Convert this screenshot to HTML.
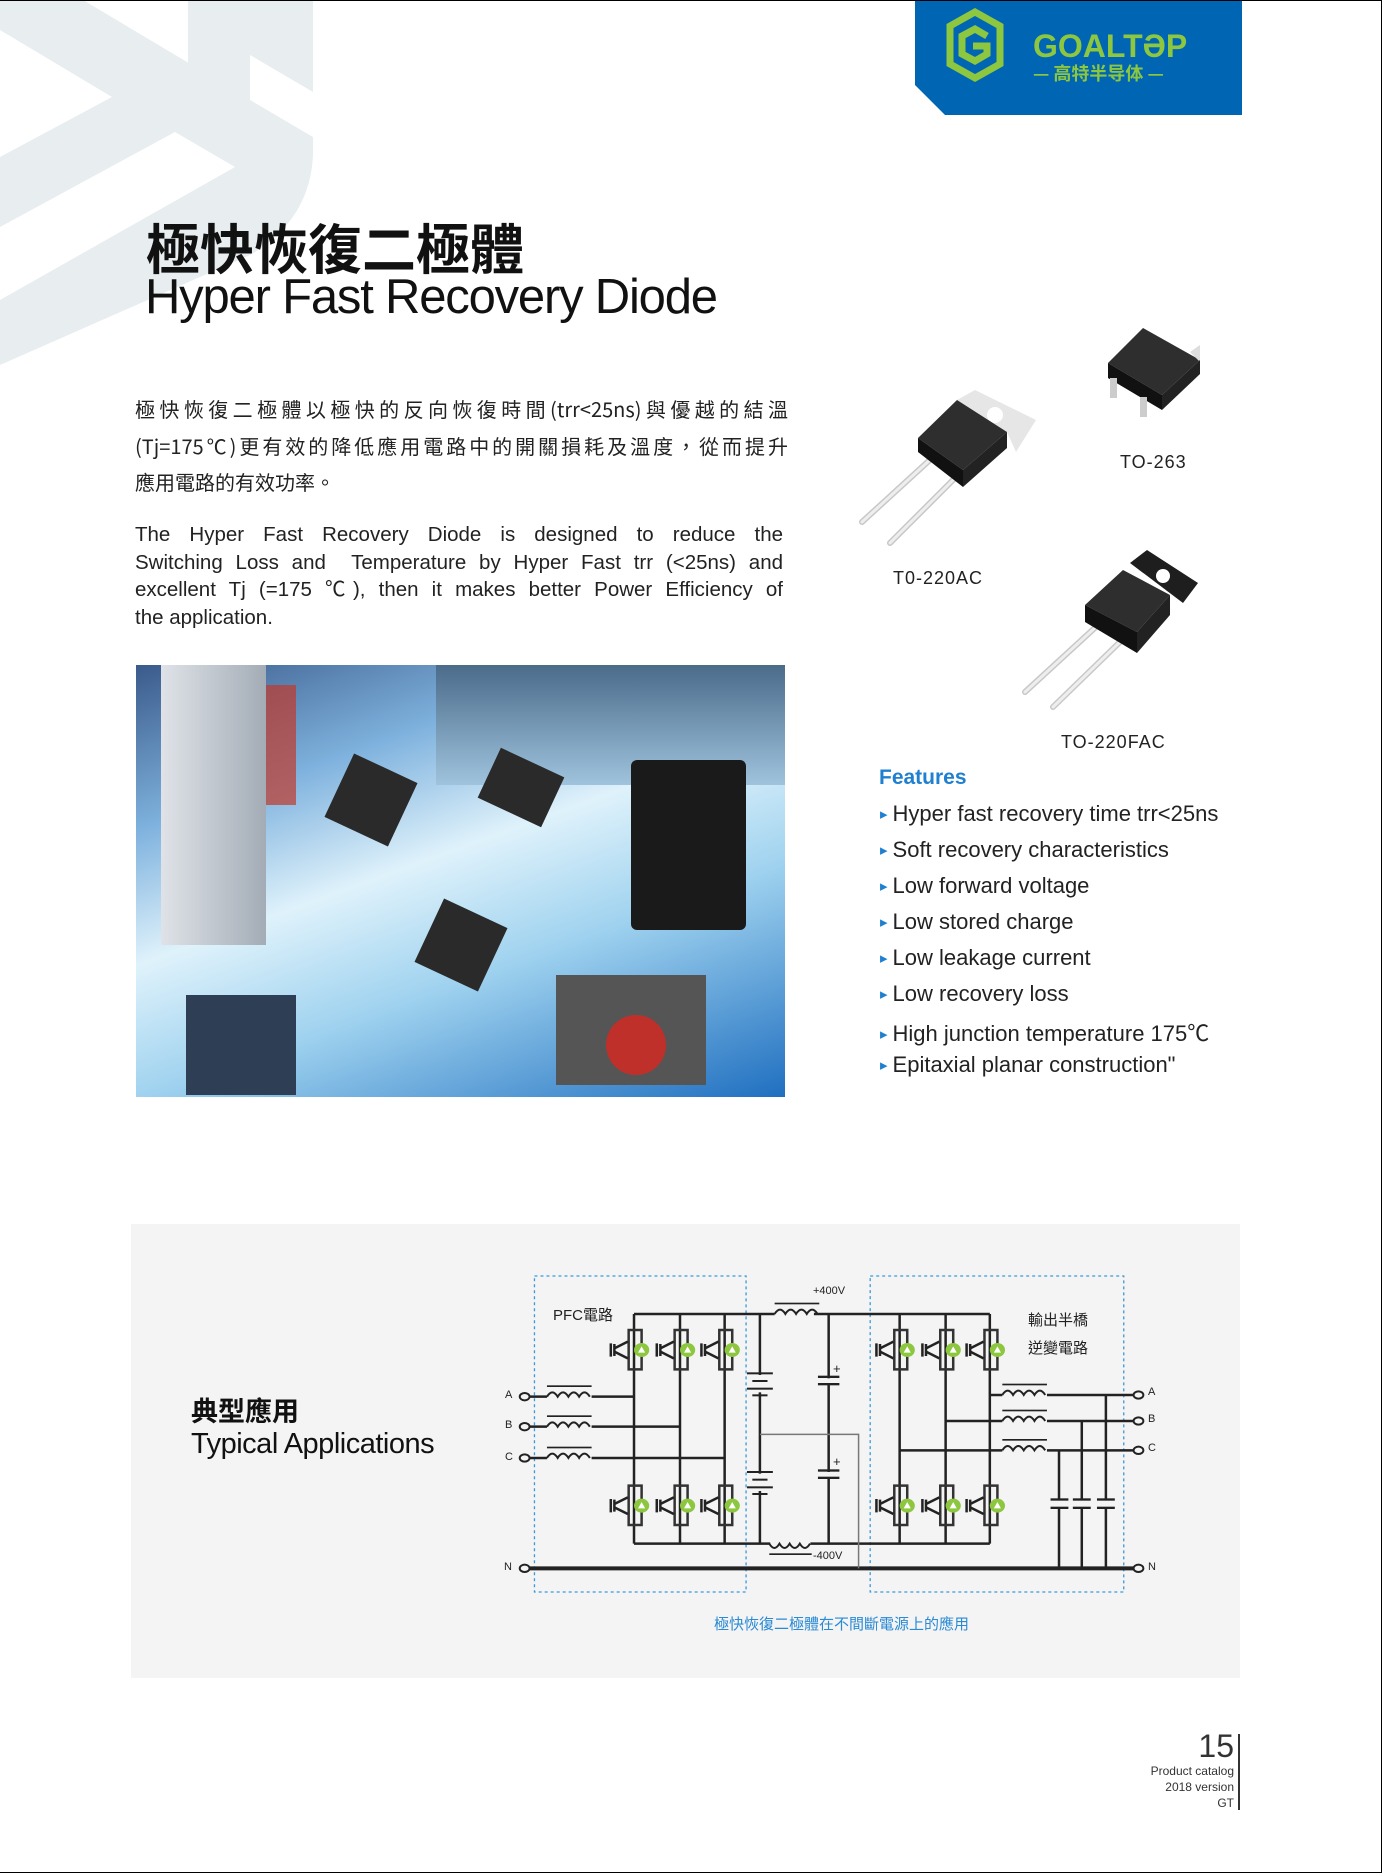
<!DOCTYPE html>
<html><head><meta charset="utf-8"><style>
*{margin:0;padding:0;box-sizing:border-box}
body{width:1382px;height:1873px;position:relative;background:#fff;overflow:hidden;font-family:"Liberation Sans","Noto Sans CJK TC",sans-serif;color:#222}
.a{position:absolute;white-space:nowrap}
.feat{position:absolute;left:880px;font-size:22px;color:#222}
.feat:before{content:"\25B8";color:#1f7fd0;font-size:15px;margin-right:5px;position:relative;top:-2px}
.jl{display:block;text-align:justify;text-align-last:justify;white-space:normal}
</style></head><body>
<svg class="a" style="left:0;top:0" width="400" height="400">
<path d="M0,0 L83,0 L313,137 L313,155 Q310,220 250,255 L0,365 Z" fill="#e8edf0"/>
<path d="M188,0 L313,0 L313,137 L188,64 Z" fill="#e8edf0"/>
<polygon points="0,30 112,97 0,157" fill="#fff"/>
<polygon points="0,227 175,132 235,167 0,300" fill="#fff"/>
<polygon points="157,0 188,0 188,20" fill="#fff"/>
<polygon points="250,55 313,92 313,137 250,100" fill="#fff"/>
</svg>
<svg class="a" style="left:915px;top:0" width="327" height="116">
<polygon points="0,0 327,0 327,115 30,115 0,85" fill="#0066b3"/>
<g fill="none" stroke="#8dc63f" stroke-width="7"><polygon points="35,26 60,12 85,26 85,64 60,78 35,64"/><path d="M72,36 L60,29 47,36 47,54 60,61 72,54 72,46 58,46"/></g>
<text x="118" y="57" font-family="Liberation Sans" font-weight="bold" font-size="32" fill="#8dc63f">GOALTƏP</text>
<text x="118" y="80" font-family="Noto Sans CJK SC" font-weight="bold" font-size="18" fill="#8dc63f">— 高特半导体 —</text>
</svg>
<div class="a" style="left:146px;top:206px;font-size:54px;font-weight:bold;font-family:'Noto Sans CJK TC',sans-serif;color:#111">極快恢復二極體</div>
<div class="a" style="left:145px;top:269px;font-size:49px;color:#111;letter-spacing:-1.2px">Hyper Fast Recovery Diode</div>
<div class="a" style="left:135px;top:391px;width:653px;font-size:20px;line-height:36.5px;font-family:'Noto Sans CJK TC',sans-serif">
<span class="jl">極快恢復二極體以極快的反向恢復時間(trr&lt;25ns)與優越的結溫</span>
<span class="jl">(Tj=175℃)更有效的降低應用電路中的開關損耗及溫度，從而提升</span>
<span>應用電路的有效功率。</span></div>
<div class="a" style="left:135px;top:521px;width:648px;font-size:20.5px;line-height:27.6px">
<span class="jl">The Hyper Fast Recovery Diode is designed to reduce the</span>
<span class="jl">Switching Loss and&nbsp; Temperature by Hyper Fast trr (&lt;25ns) and</span>
<span class="jl">excellent Tj (=175 ℃), then it makes better Power Efficiency of</span>
<span>the application.</span></div>
<div class="a" style="left:136px;top:665px;width:649px;height:432px;overflow:hidden;background:linear-gradient(160deg,#3a5a8a 0%,#7fb2de 25%,#dff2fb 45%,#9fd2ef 65%,#1f6fc0 100%)">
<div class="a" style="left:300px;top:0;width:349px;height:120px;background:linear-gradient(180deg,#4a6b8a,#9fc3dd)"></div>
<div class="a" style="left:25px;top:0;width:105px;height:280px;background:linear-gradient(90deg,#dfe3e8,#a3acb6)"></div>
<div class="a" style="left:130px;top:20px;width:30px;height:120px;background:#c0392b;opacity:.7"></div>
<div class="a" style="left:495px;top:95px;width:115px;height:170px;background:#1a1a1a;border-radius:6px"></div>
<div class="a" style="left:420px;top:310px;width:150px;height:110px;background:#555"></div>
<div class="a" style="left:470px;top:350px;width:60px;height:60px;border-radius:50%;background:#c0302b"></div>
<div class="a" style="left:50px;top:330px;width:110px;height:100px;background:#2d3e55"></div>
<div class="a" style="left:200px;top:100px;width:70px;height:70px;background:#2a2a2a;transform:rotate(25deg)"></div>
<div class="a" style="left:350px;top:95px;width:70px;height:55px;background:#2a2a2a;transform:rotate(25deg)"></div>
<div class="a" style="left:290px;top:245px;width:70px;height:70px;background:#2a2a2a;transform:rotate(25deg)"></div>
</div>
<svg class="a" style="left:0;top:0" width="1382" height="760">
<g stroke="#c8c8c8" stroke-width="6" stroke-linecap="round"><path d="M932,458 L862,522 M957,476 L890,543 M1098,625 L1025,692 M1122,640 L1053,707"/></g>
<g stroke="#eee" stroke-width="3" stroke-linecap="round"><path d="M932,458 L862,522 M957,476 L890,543 M1098,625 L1025,692 M1122,640 L1053,707"/></g>
<polygon points="957,400 975,390 1036,420 1016,452 1007,432" fill="#e6e6e6"/>
<circle cx="995" cy="415" r="8" fill="#fff"/>
<polygon points="918,438 957,400 1007,432 963,470" fill="#2e2e2e"/>
<polygon points="918,438 963,470 963,487 918,452" fill="#111"/>
<polygon points="963,470 1007,432 1007,448 963,487" fill="#222"/>
<polygon points="1130,563 1147,550 1198,583 1183,603" fill="#1e1e1e"/>
<circle cx="1163" cy="576" r="7" fill="#fff"/>
<polygon points="1085,605 1123,570 1170,595 1137,632" fill="#2e2e2e"/>
<polygon points="1085,605 1137,632 1137,653 1085,622" fill="#111"/>
<polygon points="1137,632 1170,595 1170,615 1137,653" fill="#222"/>
<polygon points="1108,363 1143,328 1200,360 1162,395" fill="#2e2e2e"/>
<polygon points="1190,352 1200,345 1200,362" fill="#ddd"/>
<polygon points="1108,363 1162,395 1162,410 1108,378" fill="#111"/>
<polygon points="1162,395 1200,360 1200,374 1162,410" fill="#222"/>
<g fill="#ccc"><rect x="1110" y="378" width="7" height="20"/><rect x="1140" y="397" width="7" height="20"/></g>
</svg>
<div class="a" style="left:1120px;top:452px;font-size:18px;letter-spacing:1px">TO-263</div>
<div class="a" style="left:893px;top:568px;font-size:18px;letter-spacing:1px">T0-220AC</div>
<div class="a" style="left:1061px;top:732px;font-size:18px;letter-spacing:1px">TO-220FAC</div>
<div class="a" style="left:879px;top:766px;font-size:21px;font-weight:bold;color:#1f7fd0">Features</div>
<div class="feat" style="top:801px">Hyper fast recovery time trr&lt;25ns</div>
<div class="feat" style="top:837px">Soft recovery characteristics</div>
<div class="feat" style="top:873px">Low forward voltage</div>
<div class="feat" style="top:909px">Low stored charge</div>
<div class="feat" style="top:945px">Low leakage current</div>
<div class="feat" style="top:981px">Low recovery loss</div>
<div class="feat" style="top:1016px">High junction temperature 175℃</div>
<div class="feat" style="top:1052px">Epitaxial planar construction"</div>
<div class="a" style="left:131px;top:1224px;width:1109px;height:454px;background:#f4f4f4"></div>
<div class="a" style="left:191px;top:1390px;font-size:27px;font-weight:bold;font-family:'Noto Sans CJK TC',sans-serif;color:#111">典型應用</div>
<div class="a" style="left:191px;top:1428px;font-size:29px;color:#111;letter-spacing:-0.5px">Typical Applications</div>
<svg class="a" style="left:480px;top:1260px" width="700" height="380" viewBox="0 0 1568 1140" preserveAspectRatio="none">
<defs><g id="sw"><rect x="-12" y="0" width="29" height="118" fill="none" stroke="#333" stroke-width="2.5" vector-effect="non-scaling-stroke"/><path d="M-52,40 L-52,80 M-44,42 L-44,78 M-44,55 L-14,35 M-44,65 L-14,85" stroke="#222" stroke-width="2.5" fill="none" vector-effect="non-scaling-stroke"/><ellipse cx="17" cy="60" rx="17" ry="21" fill="#8dc63f"/><polygon points="9,68 25,68 17,49" fill="#fff"/></g>
<g id="ind"><path d="M0,0 q12,-26 24,0 q12,-26 24,0 q12,-26 24,0 q12,-26 24,0" fill="none" stroke="#222" stroke-width="2" vector-effect="non-scaling-stroke"/><rect x="0" y="-34" width="100" height="5" fill="#222"/></g></defs>
<rect x="122" y="48" width="474" height="948" fill="none" stroke="#3a9ad9" stroke-width="1.3" stroke-dasharray="3 3" vector-effect="non-scaling-stroke"/>
<rect x="874" y="48" width="568" height="948" fill="none" stroke="#3a9ad9" stroke-width="1.3" stroke-dasharray="3 3" vector-effect="non-scaling-stroke"/>
<g stroke="#222" stroke-width="2.5" fill="none">
<path vector-effect="non-scaling-stroke" d="M345,162 H660 M748,162 H1142 M345,851 H650 M740,851 H1142"/>
<path vector-effect="non-scaling-stroke" d="M345,162 V851 M448,162 V851 M548,162 V851 M940,162 V851 M1043,162 V851 M1142,162 V851 M627,162 V851 M781,162 V851"/>
<path vector-effect="non-scaling-stroke" d="M112,410 H150 M250,410 H345 M112,500 H150 M250,500 H448 M112,594 H150 M250,594 H548"/>
<path vector-effect="non-scaling-stroke" d="M1142,405 H1170 M1270,405 H1465 M1043,483 H1170 M1270,483 H1465 M940,571 H1170 M1270,571 H1465"/>
<path vector-effect="non-scaling-stroke" d="M1297,571 V925 M1348,483 V925 M1402,405 V925"/>
<path vector-effect="non-scaling-stroke" d="M112,925 H1465" stroke-width="4"/>
</g>
<path d="M627,523 H848 V925" stroke="#777" stroke-width="1.5" fill="none" vector-effect="non-scaling-stroke"/>
<g fill="#f4f4f4"><rect x="615" y="345" width="24" height="52"/><rect x="615" y="641" width="24" height="52"/><rect x="770" y="355" width="24" height="18"/><rect x="770" y="636" width="24" height="18"/><rect x="1285" y="721" width="24" height="20"/><rect x="1336" y="721" width="24" height="20"/><rect x="1390" y="721" width="24" height="20"/></g>
<g fill="#222"><rect x="598" y="337" width="58" height="6"/><rect x="610" y="360" width="34" height="6"/><rect x="598" y="383" width="58" height="6"/><rect x="610" y="403" width="34" height="6"/>
<rect x="598" y="633" width="58" height="6"/><rect x="610" y="656" width="34" height="6"/><rect x="598" y="679" width="58" height="6"/><rect x="610" y="699" width="34" height="6"/>
<rect x="757" y="347" width="48" height="7"/><rect x="757" y="369" width="48" height="7"/><rect x="757" y="628" width="48" height="7"/><rect x="757" y="650" width="48" height="7"/>
<rect x="1278" y="715" width="40" height="7"/><rect x="1278" y="740" width="40" height="7"/><rect x="1328" y="715" width="40" height="7"/><rect x="1328" y="740" width="40" height="7"/><rect x="1382" y="715" width="40" height="7"/><rect x="1382" y="740" width="40" height="7"/></g>
<use href="#ind" transform="translate(660,162)"/>
<use href="#ind" transform="translate(648,851) scale(0.95,-1)"/>
<use href="#ind" transform="translate(150,410)"/><use href="#ind" transform="translate(150,500)"/><use href="#ind" transform="translate(150,594)"/>
<use href="#ind" transform="translate(1170,405)"/><use href="#ind" transform="translate(1170,483)"/><use href="#ind" transform="translate(1170,571)"/>
<g fill="#f4f4f4" stroke="#222" stroke-width="2"><ellipse vector-effect="non-scaling-stroke" cx="100" cy="410" rx="11" ry="11"/><ellipse vector-effect="non-scaling-stroke" cx="100" cy="500" rx="11" ry="11"/><ellipse vector-effect="non-scaling-stroke" cx="100" cy="594" rx="11" ry="11"/><ellipse vector-effect="non-scaling-stroke" cx="100" cy="925" rx="11" ry="11"/>
<ellipse vector-effect="non-scaling-stroke" cx="1475" cy="405" rx="11" ry="11"/><ellipse vector-effect="non-scaling-stroke" cx="1475" cy="483" rx="11" ry="11"/><ellipse vector-effect="non-scaling-stroke" cx="1475" cy="571" rx="11" ry="11"/><ellipse vector-effect="non-scaling-stroke" cx="1475" cy="925" rx="11" ry="11"/></g>
<g><use href="#sw" x="345" y="210"/><use href="#sw" x="448" y="210"/><use href="#sw" x="548" y="210"/><use href="#sw" x="940" y="210"/><use href="#sw" x="1043" y="210"/><use href="#sw" x="1142" y="210"/>
<use href="#sw" x="345" y="677"/><use href="#sw" x="448" y="677"/><use href="#sw" x="548" y="677"/><use href="#sw" x="940" y="677"/><use href="#sw" x="1043" y="677"/><use href="#sw" x="1142" y="677"/></g>
</svg>
<div class="a" style="left:813px;top:1285px;font-size:11px">+400V</div>
<div class="a" style="left:813px;top:1550px;font-size:11px">-400V</div>
<div class="a" style="left:833px;top:1361px;font-size:13px">+</div>
<div class="a" style="left:833px;top:1454px;font-size:13px">+</div>
<div class="a" style="left:553px;top:1304px;font-size:15px">PFC電路</div>
<div class="a" style="left:1028px;top:1309px;font-size:15px">輸出半橋</div>
<div class="a" style="left:1028px;top:1337px;font-size:15px">逆變電路</div>
<div class="a" style="left:505px;top:1389px;font-size:11px">A</div>
<div class="a" style="left:505px;top:1419px;font-size:11px">B</div>
<div class="a" style="left:505px;top:1451px;font-size:11px">C</div>
<div class="a" style="left:504px;top:1561px;font-size:11px">N</div>
<div class="a" style="left:1148px;top:1386px;font-size:11px">A</div>
<div class="a" style="left:1148px;top:1413px;font-size:11px">B</div>
<div class="a" style="left:1148px;top:1442px;font-size:11px">C</div>
<div class="a" style="left:1148px;top:1561px;font-size:11px">N</div>
<div class="a" style="left:714px;top:1613px;font-size:15px;color:#2a8ad4">極快恢復二極體在不間斷電源上的應用</div>
<div class="a" style="left:1238px;top:1734px;width:2px;height:76px;background:#333"></div>
<div class="a" style="right:148px;top:1728px;font-size:32px;color:#333">15</div>
<div class="a" style="right:148px;top:1763px;font-size:12px;line-height:16px;text-align:right;color:#333">Product catalog<br>2018 version<br>GT</div>
<div style="position:absolute;inset:0;border:1px solid #000;border-left:none;z-index:10"></div>
</body></html>
